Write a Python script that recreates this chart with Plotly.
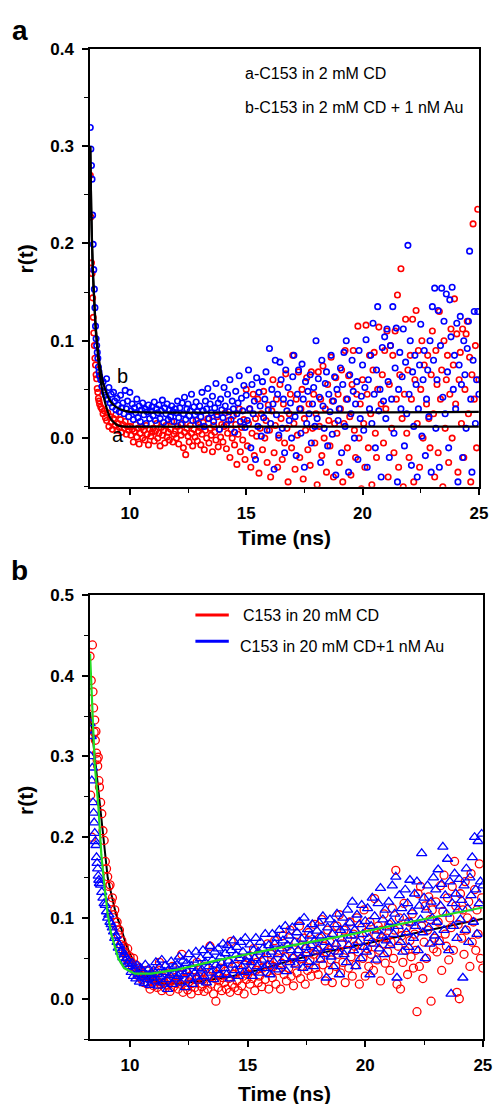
import plotly.graph_objects as go

# ---------------- data ----------------
time_ns = [
    8.300, 8.325, 8.350, 8.375, 8.400, 8.425, 8.450, 8.475, 8.500, 8.525, 8.550, 8.575, 8.600, 8.625, 8.650, 8.675, 8.700,
    8.75, 8.80, 8.85, 8.90, 8.95,
    9.00, 9.05, 9.10, 9.15, 9.20, 9.25, 9.30, 9.35, 9.40, 9.45, 9.50, 9.55, 9.60, 9.65, 9.70, 9.75, 9.80, 9.85, 9.90, 9.95,
    10.00, 10.05, 10.10, 10.15, 10.20, 10.25, 10.30, 10.35, 10.40, 10.45, 10.50, 10.55, 10.60, 10.65, 10.70, 10.75, 10.80, 10.85, 10.90, 10.95,
    11.00, 11.05, 11.10, 11.15, 11.20, 11.25, 11.30, 11.35, 11.40, 11.45, 11.50, 11.55, 11.60, 11.65, 11.70, 11.75, 11.80, 11.85, 11.90, 11.95,
    12.00, 12.05, 12.10, 12.15, 12.20, 12.25, 12.30, 12.35, 12.40, 12.45, 12.50, 12.55, 12.60, 12.65, 12.70, 12.75, 12.80, 12.85, 12.90, 12.95,
    13.00, 13.05, 13.10, 13.15, 13.20, 13.25, 13.30, 13.35, 13.40, 13.45, 13.50, 13.55, 13.60, 13.65, 13.70, 13.75, 13.80, 13.85, 13.90, 13.95,
    14.00, 14.05, 14.10, 14.15, 14.20, 14.25, 14.30, 14.35, 14.40, 14.45, 14.50, 14.55, 14.60, 14.65, 14.70, 14.75, 14.80, 14.85, 14.90, 14.95,
    15.00, 15.05, 15.10, 15.15, 15.20, 15.25, 15.30, 15.35, 15.40, 15.45, 15.50, 15.55, 15.60, 15.65, 15.70, 15.75, 15.80, 15.85, 15.90, 15.95,
    16.00, 16.05, 16.10, 16.15, 16.20, 16.25, 16.30, 16.35, 16.40, 16.45, 16.50, 16.55, 16.60, 16.65, 16.70, 16.75, 16.80, 16.85, 16.90, 16.95,
    17.00, 17.05, 17.10, 17.15, 17.20, 17.25, 17.30, 17.35, 17.40, 17.45, 17.50, 17.55, 17.60, 17.65, 17.70, 17.75, 17.80, 17.85, 17.90, 17.95,
    18.00, 18.05, 18.10, 18.15, 18.20, 18.25, 18.30, 18.35, 18.40, 18.45, 18.50, 18.55, 18.60, 18.65, 18.70, 18.75, 18.80, 18.85, 18.90, 18.95,
    19.00, 19.05, 19.10, 19.15, 19.20, 19.25, 19.30, 19.35, 19.40, 19.45, 19.50, 19.55, 19.60, 19.65, 19.70, 19.75, 19.80, 19.85, 19.90, 19.95,
    20.00, 20.05, 20.10, 20.15, 20.20, 20.25, 20.30, 20.35, 20.40, 20.45, 20.50, 20.55, 20.60, 20.65, 20.70, 20.75, 20.80, 20.85, 20.90, 20.95,
    21.00, 21.05, 21.10, 21.15, 21.20, 21.25, 21.30, 21.35, 21.40, 21.45, 21.50, 21.55, 21.60, 21.65, 21.70, 21.75, 21.80, 21.85, 21.90, 21.95,
    22.00, 22.05, 22.10, 22.15, 22.20, 22.25, 22.30, 22.35, 22.40, 22.45, 22.50, 22.55, 22.60, 22.65, 22.70, 22.75, 22.80, 22.85, 22.90, 22.95,
    23.00, 23.05, 23.10, 23.15, 23.20, 23.25, 23.30, 23.35, 23.40, 23.45, 23.50, 23.55, 23.60, 23.65, 23.70, 23.75, 23.80, 23.85, 23.90, 23.95,
    24.00, 24.05, 24.10, 24.15, 24.20, 24.25, 24.30, 24.35, 24.40, 24.45, 24.50, 24.55, 24.60, 24.65, 24.70, 24.75, 24.80, 24.85, 24.90, 24.95,
    25.00,
]

# panel a, curve a: C153 in 2 mM CD
r_a_red = [
    0.270, 0.227, 0.180, 0.169, 0.144, 0.124, 0.108, 0.095, 0.082, 0.075, 0.065, 0.061, 0.051, 0.047, 0.041, 0.038, 0.035,
    0.032, 0.030, 0.025, 0.028, 0.021,
    0.018, 0.026, 0.012, 0.022, 0.016, 0.009, 0.020, 0.013, 0.024, 0.008, 0.015, 0.011, 0.019, 0.006, 0.014, 0.010, 0.017, 0.004, 0.012, 0.008,
    0.012, 0.003, 0.009, -0.004, 0.007, 0.014, 0.001, 0.010, -0.006, 0.005, 0.011, 0.000, 0.008, -0.002, 0.013, 0.004, -0.007, 0.009, 0.002, 0.006,
    0.010, -0.003, 0.007, 0.015, 0.000, 0.005, -0.008, 0.011, 0.003, 0.008, -0.005, 0.013, 0.001, 0.006, -0.002, 0.009, 0.017, -0.004, 0.004, 0.007,
    0.000, 0.012, -0.006, 0.008, 0.003, 0.015, -0.010, 0.006, -0.017, 0.010, 0.002, -0.004, 0.013, 0.005, -0.008, 0.009, 0.001, 0.018, -0.003, 0.007,
    0.011, -0.007, 0.004, 0.016, -0.012, 0.008, 0.000, 0.020, -0.005, 0.010, 0.003, -0.014, 0.013, 0.006, -0.002, 0.022, -0.009, 0.009, 0.001, 0.014,
    -0.004, 0.012, 0.026, -0.011, 0.005, 0.018, -0.020, 0.009, 0.000, 0.023, -0.007, 0.014, -0.027, 0.004, 0.030, -0.014, 0.011, -0.002, 0.019, -0.022,
    0.050, -0.008, 0.015, 0.030, -0.030, 0.005, 0.045, -0.018, 0.020, 0.002, 0.040, -0.036, 0.010, 0.025, -0.012, 0.048, 0.000, 0.018, -0.025, 0.034,
    0.008, -0.040, 0.028, 0.060, -0.015, 0.013, 0.040, -0.030, 0.000, 0.055, 0.020, -0.022, 0.035, -0.005, 0.066, 0.010, -0.045, 0.025, 0.045, -0.010,
    0.085, 0.015, -0.032, 0.040, 0.003, 0.068, -0.020, 0.030, 0.050, -0.042, 0.020, 0.008, 0.062, -0.012, 0.035, -0.028, 0.068, 0.010, 0.045, -0.005,
    0.025, -0.048, 0.068, 0.012, 0.040, -0.018, 0.074, 0.000, 0.030, -0.035, 0.055, 0.018, -0.008, 0.083, 0.038, -0.040, 0.015, 0.062, 0.005, 0.045,
    -0.025, 0.030, 0.070, -0.045, 0.015, 0.090, 0.040, -0.010, 0.064, 0.022, -0.038, 0.055, 0.090, 0.008, -0.020, 0.045, 0.115, 0.000, 0.035, -0.052,
    0.060, 0.015, -0.030, 0.116, 0.045, -0.010, 0.085, 0.025, -0.048, 0.070, 0.088, 0.005, -0.020, 0.050, 0.114, -0.055, 0.035, 0.065, -0.005, 0.090,
    0.030, 0.110, -0.040, 0.055, 0.095, 0.010, 0.085, -0.015, 0.110, 0.040, 0.147, -0.030, 0.065, 0.174, 0.020, -0.050, 0.045, 0.122, 0.005, 0.070,
    -0.020, 0.085, 0.040, 0.122, -0.045, 0.060, 0.131, 0.015, 0.090, -0.030, 0.050, 0.100, 0.000, 0.075, -0.055, 0.035, 0.085, 0.020, -0.010, 0.065,
    0.110, 0.025, -0.040, 0.090, 0.055, -0.015, 0.130, 0.040, 0.070, -0.050, 0.100, 0.010, 0.060, 0.085, -0.025, 0.045, 0.112, 0.000, 0.075, 0.143,
    0.035, 0.107, -0.035, 0.060, 0.088, 0.015, 0.112, -0.020, 0.050, 0.107, 0.120, 0.025, 0.083, -0.045, 0.065, 0.220, 0.040, 0.095, -0.010, 0.235,
    0.060,
]

# panel a, curve b: C153 in 2 mM CD + 1 nM Au
r_a_blue = [
    0.319, 0.297, 0.280, 0.266, 0.229, 0.199, 0.173, 0.153, 0.134, 0.115, 0.102, 0.095, 0.088, 0.082, 0.073, 0.068, 0.064,
    0.060, 0.053, 0.058, 0.047, 0.044,
    0.061, 0.040, 0.052, 0.036, 0.045, 0.032, 0.047, 0.038, 0.029, 0.041, 0.034, 0.027, 0.044, 0.031, 0.036, 0.025, 0.049, 0.030, 0.038, 0.022,
    0.047, 0.028, 0.035, 0.019, 0.031, 0.026, 0.040, 0.021, 0.033, 0.017, 0.029, 0.036, 0.024, 0.030, 0.015, 0.027, 0.034, 0.020, 0.028, 0.032,
    0.023, 0.037, 0.018, 0.030, 0.026, 0.034, 0.020, 0.028, 0.039, 0.016, 0.031, 0.025, 0.035, 0.019, 0.029, 0.022, 0.033, 0.027, 0.017, 0.030,
    0.026, 0.038, 0.021, 0.031, 0.014, 0.036, 0.025, 0.042, 0.019, 0.030, 0.035, 0.023, 0.028, 0.045, 0.018, 0.032, 0.024, 0.037, 0.027, 0.015,
    0.033, 0.022, 0.047, 0.028, 0.012, 0.038, 0.030, 0.051, 0.020, 0.035, 0.026, 0.043, 0.017, 0.031, 0.056, 0.024, 0.036, 0.009, 0.040, 0.029,
    0.021, 0.052, 0.033, 0.014, 0.045, 0.027, 0.060, 0.019, 0.038, 0.030, 0.006, 0.048, 0.025, 0.036, 0.064, 0.017, 0.041, 0.028, 0.054, 0.011,
    0.044, 0.018, 0.070, 0.030, -0.010, 0.055, 0.025, 0.038, -0.022, 0.062, 0.012, 0.047, 0.033, 0.002, 0.058, 0.021, 0.040, 0.068, 0.008, 0.029,
    0.092, 0.015, 0.050, 0.035, -0.032, 0.080, 0.024, 0.045, 0.003, 0.078, 0.060, 0.010, 0.040, -0.015, 0.070, 0.028, 0.052, 0.018, 0.036, 0.000,
    0.063, 0.085, 0.022, -0.018, 0.045, 0.070, 0.030, 0.005, 0.076, 0.040, -0.030, 0.058, 0.015, 0.048, 0.025, 0.065, -0.005, 0.035, 0.052, 0.012,
    0.100, 0.020, 0.061, 0.042, -0.025, 0.080, 0.033, 0.010, 0.056, 0.068, -0.008, 0.045, 0.027, 0.085, 0.004, 0.038, 0.063, -0.038, 0.050, 0.018,
    0.030, 0.072, -0.015, 0.055, 0.088, 0.012, 0.100, 0.040, -0.035, 0.065, 0.025, 0.080, 0.048, 0.000, 0.035, 0.058, -0.022, 0.090, 0.020, 0.043,
    0.075, 0.008, 0.052, 0.101, -0.030, 0.060, 0.030, 0.085, 0.015, 0.118, 0.045, -0.010, 0.070, 0.135, 0.028, 0.050, -0.040, 0.093, 0.038, 0.104,
    0.020, 0.112, 0.058, -0.020, 0.095, 0.040, 0.135, 0.005, 0.072, 0.113, -0.045, 0.050, 0.088, 0.030, 0.063, 0.112, -0.008, 0.078, 0.025, 0.198,
    0.045, 0.100, -0.028, 0.068, 0.012, 0.085, 0.055, -0.040, 0.030, 0.075, 0.117, 0.002, 0.060, 0.090, -0.018, 0.040, 0.070, 0.022, 0.100, -0.035,
    0.135, 0.080, 0.154, 0.010, 0.060, 0.131, -0.030, 0.095, 0.154, 0.042, 0.120, 0.025, 0.148, 0.068, -0.010, 0.142, 0.104, 0.155, 0.050, 0.085,
    0.030, 0.118, -0.045, 0.075, 0.125, 0.055, -0.020, 0.100, 0.065, 0.010, 0.092, 0.120, 0.192, 0.040, -0.035, 0.080, 0.130, 0.015, 0.060, 0.130,
    0.045,
]

# fitted curves, panel a
fit_a_t = [8.30, 8.34, 8.38, 8.42, 8.47, 8.53, 8.60, 8.68, 8.78, 8.90, 9.00, 9.13, 9.27, 9.45, 9.67, 10.0, 25.0]
fit_a_curve_a = [0.300, 0.235, 0.195, 0.165, 0.140, 0.112, 0.092, 0.072, 0.054, 0.040, 0.031, 0.022, 0.017, 0.0135, 0.012, 0.0117, 0.0117]
fit_a_t_b = [8.30, 8.34, 8.38, 8.42, 8.47, 8.53, 8.60, 8.68, 8.78, 8.85, 9.00, 9.13, 9.30, 9.55, 9.80, 10.0, 25.0]
fit_a_curve_b = [0.300, 0.237, 0.197, 0.168, 0.143, 0.116, 0.097, 0.080, 0.065, 0.057, 0.046, 0.039, 0.034, 0.030, 0.028, 0.027, 0.027]

# panel b: C153 in 20 mM CD
r_b_red = [
    0.424, 0.252, 0.394, 0.200, 0.438, 0.380, 0.360, 0.330, 0.345, 0.320, 0.331, 0.304, 0.296, 0.288, 0.299, 0.270, 0.262,
    0.243, 0.229, 0.208, 0.196, 0.170,
    0.161, 0.151, 0.139, 0.141, 0.120, 0.125, 0.104, 0.110, 0.090, 0.095, 0.079, 0.085, 0.067, 0.072, 0.060, 0.065, 0.057, 0.050, 0.062, 0.045,
    0.052, 0.046, 0.040, 0.050, 0.036, 0.042, 0.030, 0.038, 0.027, 0.033, 0.024, 0.030, 0.020, 0.028, 0.035, 0.018, 0.026, 0.012, 0.022, 0.030,
    0.016, 0.025, 0.034, 0.014, 0.021, 0.045, 0.018, 0.010, 0.027, 0.020, 0.013, 0.031, 0.017, 0.024, 0.009, 0.022, 0.040, 0.015, 0.026, 0.019,
    0.023, 0.012, 0.030, 0.018, 0.055, 0.008, 0.025, 0.016, 0.033, 0.011, 0.021, 0.028, 0.006, 0.019, 0.036, 0.014, 0.024, 0.045, 0.010, 0.027,
    0.032, 0.015, 0.024, 0.009, 0.040, 0.020, 0.012, 0.028, 0.065, 0.018, 0.035, 0.006, 0.025, -0.003, 0.030, 0.014, 0.022, 0.038, 0.010, 0.026,
    0.020, 0.034, 0.012, 0.045, 0.025, 0.008, 0.071, 0.018, 0.030, 0.014, 0.040, 0.022, 0.010, 0.035, 0.050, 0.016, 0.028, 0.006, 0.042, 0.024,
    0.030, 0.050, 0.018, 0.040, 0.025, 0.062, 0.010, 0.035, 0.045, 0.020, 0.028, 0.055, 0.015, 0.038, 0.048, 0.024, 0.033, 0.068, 0.012, 0.042,
    0.055, 0.026, 0.040, 0.072, 0.018, 0.048, 0.035, 0.060, 0.012, 0.044, 0.078, 0.030, 0.052, 0.022, 0.065, 0.038, 0.085, 0.028, 0.050, 0.016,
    0.045, 0.070, 0.032, 0.058, 0.090, 0.025, 0.050, 0.040, 0.075, 0.018, 0.062, 0.035, 0.082, 0.048, 0.028, 0.066, 0.055, 0.092, 0.038, 0.060,
    0.030, 0.075, 0.050, 0.098, 0.042, 0.065, 0.022, 0.058, 0.085, 0.035, 0.070, 0.048, 0.020, 0.080, 0.060, 0.040, 0.090, 0.055, 0.104, 0.032,
    0.068, 0.045, 0.085, 0.020, 0.060, 0.075, 0.038, 0.095, 0.052, 0.028, 0.080, 0.065, 0.042, 0.100, 0.058, 0.018, 0.072, 0.088, 0.050, 0.110,
    0.028, 0.082, 0.062, 0.040, 0.095, 0.055, 0.070, 0.035, 0.124, 0.078, 0.048, 0.090, 0.060, 0.022, 0.085, 0.068, 0.105, 0.044, 0.075, 0.058,
    0.092, 0.035, 0.070, 0.112, 0.050, 0.085, 0.159, 0.018, 0.065, 0.100, 0.012, 0.078, 0.045, 0.118, 0.060, 0.088, 0.030, 0.095, 0.072, 0.052,
    0.105, 0.038, 0.080, 0.060, -0.016, 0.130, 0.040, 0.139, 0.090, 0.025, 0.070, 0.115, 0.050, 0.085, 0.126, 0.098, -0.003, 0.110, 0.062, 0.075,
    0.120, 0.058, 0.095, 0.072, 0.140, 0.035, 0.108, 0.153, 0.080, 0.065, 0.125, 0.048, 0.100, 0.088, 0.139, 0.060, 0.170, 0.115, 0.008, 0.092,
    0.000, 0.130, 0.075, 0.110, 0.055, 0.145, 0.085, 0.100, 0.120, 0.040, 0.155, 0.070, 0.095, 0.135, 0.060, 0.110, 0.080, 0.167, 0.050, 0.125,
    0.038,
]

# panel b: C153 in 20 mM CD + 1 nM Au
r_b_blue = [
    0.341, 0.300, 0.325, 0.270, 0.286, 0.243, 0.230, 0.218, 0.205, 0.195, 0.190, 0.175, 0.168, 0.161, 0.152, 0.147, 0.143,
    0.141, 0.132, 0.125, 0.118, 0.116,
    0.108, 0.100, 0.104, 0.095, 0.092, 0.088, 0.083, 0.075, 0.078, 0.070, 0.063, 0.066, 0.058, 0.060, 0.051, 0.055, 0.047, 0.050, 0.043, 0.046,
    0.040, 0.033, 0.044, 0.028, 0.036, 0.025, 0.041, 0.030, 0.021, 0.038, 0.027, 0.034, 0.019, 0.042, 0.029, 0.024, 0.037, 0.017, 0.032, 0.026,
    0.035, 0.022, 0.045, 0.030, 0.016, 0.039, 0.027, 0.048, 0.020, 0.033, 0.041, 0.024, 0.012, 0.036, 0.029, 0.046, 0.018, 0.031, 0.040, 0.025,
    0.042, 0.028, 0.052, 0.020, 0.037, 0.047, 0.030, 0.014, 0.044, 0.034, 0.055, 0.025, 0.040, 0.018, 0.048, 0.032, 0.058, 0.027, 0.038, 0.022,
    0.050, 0.036, 0.060, 0.028, 0.045, 0.020, 0.054, 0.040, 0.065, 0.032, 0.048, 0.024, 0.058, 0.042, 0.035, 0.062, 0.030, 0.052, 0.044, 0.068,
    0.038, 0.056, 0.030, 0.066, 0.047, 0.025, 0.060, 0.042, 0.072, 0.035, 0.054, 0.064, 0.028, 0.050, 0.070, 0.040, 0.058, 0.033, 0.075, 0.046,
    0.052, 0.035, 0.067, 0.045, 0.028, 0.060, 0.050, 0.075, 0.040, 0.058, 0.032, 0.070, 0.048, 0.062, 0.038, 0.080, 0.055, 0.042, 0.066, 0.030,
    0.058, 0.080, 0.046, 0.068, 0.036, 0.075, 0.055, 0.085, 0.040, 0.062, 0.072, 0.050, 0.090, 0.034, 0.066, 0.078, 0.045, 0.060, 0.088, 0.052,
    0.070, 0.042, 0.082, 0.060, 0.095, 0.050, 0.074, 0.038, 0.100, 0.064, 0.056, 0.086, 0.045, 0.078, 0.066, 0.092, 0.040, 0.072, 0.058, 0.084,
    0.062, 0.094, 0.048, 0.078, 0.102, 0.055, 0.070, 0.026, 0.088, 0.064, 0.098, 0.052, 0.080, 0.040, 0.092, 0.068, 0.105, 0.058, 0.030, 0.085,
    0.074, 0.100, 0.055, 0.088, 0.045, 0.110, 0.066, 0.094, 0.078, 0.120, 0.060, 0.085, 0.040, 0.104, 0.070, 0.092, 0.050, 0.116, 0.080, 0.064,
    0.096, 0.058, 0.112, 0.075, 0.030, 0.090, 0.125, 0.068, 0.102, 0.048, 0.084, 0.118, 0.062, 0.137, 0.078, 0.098, 0.055, 0.110, 0.072, 0.088,
    0.120, 0.066, 0.095, 0.140, 0.080, 0.105, 0.151, 0.026, 0.090, 0.128, 0.070, 0.112, 0.058, 0.100, 0.135, 0.082, 0.118, 0.064, 0.147, 0.094,
    0.108, 0.075, 0.130, 0.090, 0.145, 0.060, 0.115, 0.098, 0.180, 0.082, 0.125, 0.050, 0.110, 0.140, 0.088, 0.068, 0.120, 0.100, 0.150, 0.078,
    0.135, 0.095, 0.160, 0.070, 0.115, 0.142, 0.188, 0.085, 0.128, 0.105, 0.173, 0.060, 0.145, 0.006, 0.118, 0.090, 0.155, 0.130, 0.075, 0.110,
    0.148, 0.098, 0.122, 0.026, 0.140, 0.085, 0.161, 0.112, 0.070, 0.150, 0.128, 0.175, 0.095, 0.200, 0.135, 0.080, 0.195, 0.118, 0.145, 0.204,
    0.140,
]

# fitted curves, panel b
fit_b_black_t = [8.30, 8.50, 8.70, 8.90, 9.05, 9.20, 9.40, 9.62, 9.80, 9.97, 10.3, 10.8, 11.4, 12.0, 12.8, 14.2, 15.5, 16.8, 18.0, 19.5, 21.0, 22.5, 23.7, 25.0]
fit_b_black = [0.355, 0.300, 0.240, 0.185, 0.150, 0.130, 0.105, 0.0875, 0.070, 0.057, 0.038, 0.025, 0.019, 0.019, 0.021, 0.027, 0.036, 0.047, 0.056, 0.065, 0.074, 0.083, 0.091, 0.099]
fit_b_green_t = [8.30, 8.40, 8.50, 8.65, 8.78, 8.93, 9.05, 9.20, 9.50, 9.75, 10.2, 10.9, 12.0, 13.7, 16.5, 19.3, 22.06, 25.0]
fit_b_green = [0.427, 0.360, 0.290, 0.240, 0.178, 0.135, 0.105, 0.080, 0.050, 0.038, 0.031, 0.031, 0.036, 0.0475, 0.064, 0.079, 0.096, 0.113]

x_ticks = [10, 15, 20, 25]
x_minor = [12.5, 17.5, 22.5]
y_ticks_a = [0.0, 0.1, 0.2, 0.3, 0.4]
y_ticks_b = [0.0, 0.1, 0.2, 0.3, 0.4, 0.5]

for s in (r_a_red, r_a_blue, r_b_red, r_b_blue):
    assert len(s) == len(time_ns), len(s)

# ---------------- figure ----------------
W, H = 499, 1104
FONT = "Liberation Sans, Arial, Helvetica, sans-serif"
RED = "#ff0000"
BLUE = "#0000ff"
GREEN = "#22dd22"


def px(x):
    return x / W


def py(y):
    return 1 - y / H


fig = go.Figure()

# panel a
fig.add_trace(go.Scatter(x=time_ns, y=r_a_red, mode="markers", xaxis="x", yaxis="y",
                         marker=dict(symbol="circle-open", size=5.5, color=RED, line=dict(width=1.6, color=RED)),
                         showlegend=False))
fig.add_trace(go.Scatter(x=time_ns, y=r_a_blue, mode="markers", xaxis="x", yaxis="y",
                         marker=dict(symbol="circle-open", size=5.5, color=BLUE, line=dict(width=1.6, color=BLUE)),
                         showlegend=False))
fig.add_trace(go.Scatter(x=fit_a_t, y=fit_a_curve_a, mode="lines", xaxis="x", yaxis="y",
                         line=dict(color="black", width=2.2, shape="spline", smoothing=0.6), showlegend=False))
fig.add_trace(go.Scatter(x=fit_a_t_b, y=fit_a_curve_b, mode="lines", xaxis="x", yaxis="y",
                         line=dict(color="black", width=2.2, shape="spline", smoothing=0.6), showlegend=False))

# panel b
fig.add_trace(go.Scatter(x=fit_b_black_t, y=fit_b_black, mode="lines", xaxis="x2", yaxis="y2",
                         line=dict(color="black", width=2), showlegend=False))
fig.add_trace(go.Scatter(x=time_ns, y=r_b_red, mode="markers", xaxis="x2", yaxis="y2",
                         marker=dict(symbol="circle-open", size=8, color=RED, line=dict(width=1.3, color=RED)),
                         showlegend=False))
fig.add_trace(go.Scatter(x=time_ns, y=r_b_blue, mode="markers", xaxis="x2", yaxis="y2",
                         marker=dict(symbol="triangle-up-open", size=9, color=BLUE, line=dict(width=1.3, color=BLUE)),
                         showlegend=False))
fig.add_trace(go.Scatter(x=fit_b_green_t, y=fit_b_green, mode="lines", xaxis="x2", yaxis="y2",
                         line=dict(color=GREEN, width=2.2), showlegend=False))

tickfont = dict(family=FONT, size=17, color="black", weight="bold")
common_x = dict(tickvals=x_ticks, ticks="outside", ticklen=6, tickwidth=1.5, tickcolor="black",
                showline=True, linecolor="black", linewidth=1.5, mirror=True, showgrid=False, zeroline=False,
                tickfont=tickfont, ticklabelstandoff=4,
                minor=dict(tickvals=x_minor, ticks="outside", ticklen=4, tickwidth=1.2, tickcolor="black", showgrid=False))
common_y = dict(ticks="outside", ticklen=6, tickwidth=1.5, tickcolor="black", tickformat=".1f",
                showline=True, linecolor="black", linewidth=1.5, mirror=True, showgrid=False, zeroline=False,
                tickfont=tickfont, ticklabelstandoff=5)

fig.update_layout(
    width=W, height=H, autosize=False,
    margin=dict(l=0, r=0, t=0, b=0),
    paper_bgcolor="white", plot_bgcolor="white",
    showlegend=False,
    xaxis=dict(domain=[px(91.7), px(487.7)], range=[8.29, 25.0], anchor="y", **common_x),
    yaxis=dict(domain=[py(481.7), py(40)], range=[-0.05, 0.4], anchor="x", tickvals=y_ticks_a,
               minor=dict(tickvals=[-0.05, 0.05, 0.15, 0.25, 0.35], ticks="outside", ticklen=4, tickwidth=1.2,
                          tickcolor="black", showgrid=False),
               **common_y),
    xaxis2=dict(domain=[px(91.7), px(491.7)], range=[8.30, 25.0], anchor="y2", **common_x),
    yaxis2=dict(domain=[py(1038.6), py(590.7)], range=[-0.05, 0.5], anchor="x2", tickvals=y_ticks_b,
                minor=dict(tickvals=[-0.05, 0.05, 0.15, 0.25, 0.35, 0.45], ticks="outside", ticklen=4, tickwidth=1.2,
                           tickcolor="black", showgrid=False),
                **common_y),
)

ann = []


def label(text, x, y, size, bold=False, xanchor="center", yanchor="middle", angle=0):
    ann.append(dict(text=text, x=px(x), y=py(y), xref="paper", yref="paper", showarrow=False,
                    xanchor=xanchor, yanchor=yanchor, textangle=angle,
                    font=dict(family=FONT, size=size, color="black", weight="bold" if bold else "normal")))


# panel letters
label("a", 20, 22, 28, bold=True)
label("b", 20, 566, 28, bold=True)
# axis titles
label("r(t)", 26, 252, 21, bold=True, angle=-90)
label("r(t)", 26, 798, 21, bold=True, angle=-90)
label("Time (ns)", 290, 533, 21, bold=True)
label("Time (ns)", 290, 1093, 21, bold=True)
# panel a texts
label("a-C153 in 2 mM CD", 247, 65, 16, xanchor="left")
label("b-C153 in 2 mM CD + 1 nM Au", 247, 99, 16, xanchor="left")
label("b", 125, 370, 20)
label("a", 120.5, 429, 20)
# panel b legend
label("C153 in 20 mM CD", 245, 611, 16, xanchor="left")
label("C153 in 20 mM CD+1 nM Au", 242, 643, 16, xanchor="left")

fig.update_layout(annotations=ann)

fig.add_shape(type="line", xref="paper", yref="paper", x0=px(199), x1=px(233), y0=py(611), y1=py(611),
              line=dict(color=RED, width=3))
fig.add_shape(type="line", xref="paper", yref="paper", x0=px(199), x1=px(233), y0=py(637.5), y1=py(637.5),
              line=dict(color=BLUE, width=3))

fig.write_html("out.html",
               config={"displayModeBar": False},
               post_script="document.body.style.margin='0';document.body.style.padding='0';"
                           "document.documentElement.style.overflow='hidden';")
